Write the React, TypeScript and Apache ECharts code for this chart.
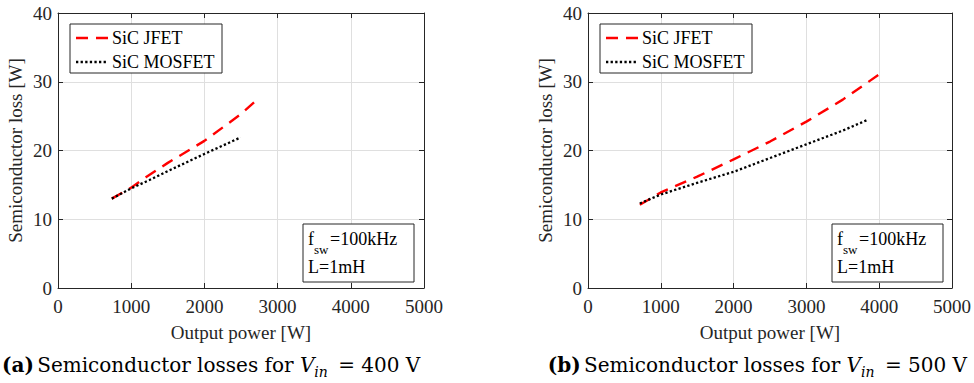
import React, { useEffect, useRef } from "react";
import * as echarts from "echarts";

// Panel (a): V_in = 400 V
const jfetA_P = [735, 1000, 1200, 1500, 2000, 2500, 2690];
const jfetA_L = [13.0, 14.6, 16.1, 18.2, 21.4, 25.3, 27.1];
const mosA_P = [735, 1000, 1250, 1500, 2000, 2495];
const mosA_L = [13.0, 14.5, 15.7, 17.0, 19.5, 21.9];

// Panel (b): V_in = 500 V
const jfetB_P = [712, 1000, 1500, 2000, 2500, 3000, 3500, 3990];
const jfetB_L = [12.1, 13.9, 16.2, 18.7, 21.3, 24.2, 27.4, 31.0];
const mosB_P = [712, 1000, 1500, 2000, 2500, 3000, 3500, 3850];
const mosB_L = [12.3, 13.6, 15.3, 16.9, 18.9, 20.9, 22.9, 24.5];

const seriesNames = ["SiC JFET", "SiC MOSFET"];
const xRange = [0, 5000];
const yRange = [0, 40];
const xStep = 1000;
const yStep = 10;
const xTitle = "Output power [W]";
const yTitle = "Semiconductor loss [W]";
const captions = [
  { tag: "(a)", v: "400" },
  { tag: "(b)", v: "500" },
];

const pairs = (xs: number[], ys: number[]) => xs.map((x, i) => [x, ys[i]]);

const FONT = "'Liberation Serif', serif";
const CAPFONT = "'DejaVu Serif', serif";
const AX = "#262626";
const JFET_DASH = [12, 8];
const MOS_DASH = [2.3, 2.3];

export default function App() {
  const ref = useRef<HTMLDivElement>(null);
  useEffect(() => {
    document.body.style.margin = "0";
    const chart = echarts.init(ref.current!, null, { renderer: "svg" });
    const grids = [
      { left: 58, top: 13, width: 366, height: 275 },
      { left: 588, top: 13, width: 365, height: 275 },
    ];
    const xAxes: any[] = [];
    const yAxes: any[] = [];
    grids.forEach((_, g) => {
      xAxes.push({
        type: "value",
        gridIndex: g,
        min: xRange[0],
        max: xRange[1],
        interval: xStep,
        name: xTitle,
        nameLocation: "middle",
        nameGap: 35,
        nameTextStyle: { fontFamily: FONT, fontSize: 19, color: AX },
        axisLine: { show: true, lineStyle: { color: AX, width: 1 } },
        axisTick: { show: true, inside: true, length: 5, lineStyle: { color: AX } },
        axisLabel: { fontFamily: FONT, fontSize: 19, color: AX, margin: 9, formatter: (v: number) => String(v) },
        splitLine: { show: true, lineStyle: { color: "#dfdfdf", width: 1 } },
      });
      xAxes.push({
        type: "value",
        gridIndex: g,
        position: "top",
        min: xRange[0],
        max: xRange[1],
        interval: xStep,
        axisLine: { show: true, onZero: false, lineStyle: { color: AX, width: 1 } },
        axisTick: { show: true, inside: true, length: 5, lineStyle: { color: AX } },
        axisLabel: { show: false },
        splitLine: { show: false },
      });
      yAxes.push({
        type: "value",
        gridIndex: g,
        min: yRange[0],
        max: yRange[1],
        interval: yStep,
        name: yTitle,
        nameLocation: "middle",
        nameGap: 33,
        nameTextStyle: { fontFamily: FONT, fontSize: 19, color: AX },
        axisLine: { show: true, lineStyle: { color: AX, width: 1 } },
        axisTick: { show: true, inside: true, length: 5, lineStyle: { color: AX } },
        axisLabel: { fontFamily: FONT, fontSize: 19, color: AX, margin: 6 },
        splitLine: { show: true, lineStyle: { color: "#dfdfdf", width: 1 } },
      });
      yAxes.push({
        type: "value",
        gridIndex: g,
        position: "right",
        min: yRange[0],
        max: yRange[1],
        interval: yStep,
        axisLine: { show: true, onZero: false, lineStyle: { color: AX, width: 1 } },
        axisTick: { show: true, inside: true, length: 5, lineStyle: { color: AX } },
        axisLabel: { show: false },
        splitLine: { show: false },
      });
    });

    const data = [
      [pairs(jfetA_P, jfetA_L), pairs(mosA_P, mosA_L)],
      [pairs(jfetB_P, jfetB_L), pairs(mosB_P, mosB_L)],
    ];
    const series: any[] = [];
    data.forEach((d, g) => {
      series.push({
        name: seriesNames[0],
        type: "line",
        xAxisIndex: g * 2,
        yAxisIndex: g * 2,
        data: d[0],
        symbol: "none",
        smooth: false,
        lineStyle: { color: "#ff0000", width: 2.4, type: JFET_DASH },
        itemStyle: { color: "#ff0000" },
        z: 3,
      });
      series.push({
        name: seriesNames[1],
        type: "line",
        xAxisIndex: g * 2,
        yAxisIndex: g * 2,
        data: d[1],
        symbol: "none",
        smooth: false,
        lineStyle: { color: "#000000", width: 2.3, type: MOS_DASH },
        itemStyle: { color: "#000000" },
        z: 4,
      });
    });

    const graphic: any[] = [];
    grids.forEach((gr, g) => {
      // legend box
      const lx = gr.left + 12;
      const ly = 24;
      graphic.push({
        type: "rect",
        shape: { x: lx, y: ly, width: 152, height: 49 },
        style: { fill: "#fff", stroke: AX, lineWidth: 1 },
        z: 20,
      });
      graphic.push({
        type: "line",
        shape: { x1: lx + 6, y1: ly + 14, x2: lx + 38, y2: ly + 14 },
        style: { stroke: "#ff0000", lineWidth: 2.4, lineDash: JFET_DASH },
        z: 21,
      });
      graphic.push({
        type: "line",
        shape: { x1: lx + 6, y1: ly + 38, x2: lx + 38, y2: ly + 38 },
        style: { stroke: "#000", lineWidth: 2.3, lineDash: MOS_DASH },
        z: 21,
      });
      graphic.push({
        type: "text",
        x: lx + 42,
        y: ly + 14,
        style: { text: seriesNames[0], font: `18px ${FONT}`, fill: "#000", verticalAlign: "middle" },
        z: 21,
      });
      graphic.push({
        type: "text",
        x: lx + 42,
        y: ly + 38,
        style: { text: seriesNames[1], font: `18px ${FONT}`, fill: "#000", verticalAlign: "middle" },
        z: 21,
      });

      // parameter box
      const bx = gr.left + gr.width - 121;
      const by = 224;
      graphic.push({
        type: "rect",
        shape: { x: bx, y: by, width: 111, height: 58 },
        style: { fill: "#fff", stroke: AX, lineWidth: 1 },
        z: 20,
      });
      graphic.push({
        type: "text",
        x: bx + 5,
        y: by + 15,
        style: { text: "f", font: `18px ${FONT}`, fill: "#000", verticalAlign: "middle" },
        z: 21,
      });
      graphic.push({
        type: "text",
        x: bx + 11,
        y: by + 25,
        style: { text: "sw", font: `13px ${FONT}`, fill: "#000", verticalAlign: "middle" },
        z: 21,
      });
      graphic.push({
        type: "text",
        x: bx + 27,
        y: by + 15,
        style: { text: "=100kHz", font: `18px ${FONT}`, fill: "#000", verticalAlign: "middle" },
        z: 21,
      });
      graphic.push({
        type: "text",
        x: bx + 5,
        y: by + 43,
        style: { text: "L=1mH", font: `18px ${FONT}`, fill: "#000", verticalAlign: "middle" },
        z: 21,
      });

      // caption
      const c = captions[g];
      graphic.push({
        type: "text",
        x: g === 0 ? 2 : 967,
        y: 362,
        style: {
          text: `{b|${c.tag}} {n|Semiconductor losses for }{i|V}{s|in}{n| = ${c.v} V}`,
          verticalAlign: "middle",
          align: g === 0 ? "left" : "right",
          fill: "#000",
          rich: {
            b: { fontFamily: CAPFONT, fontWeight: "bold", fontSize: 20, lineHeight: 26, verticalAlign: "bottom" },
            n: { fontFamily: CAPFONT, fontSize: 20, lineHeight: 26, verticalAlign: "bottom" },
            i: { fontFamily: CAPFONT, fontStyle: "italic", fontSize: 20, lineHeight: 26, verticalAlign: "bottom" },
            s: { fontFamily: CAPFONT, fontStyle: "italic", fontSize: 14, lineHeight: 14, verticalAlign: "bottom", padding: [0, 4, -4, 0] },
          },
        },
        z: 21,
      });
    });

    chart.setOption({
      animation: false,
      backgroundColor: "#ffffff",
      grid: grids,
      xAxis: xAxes,
      yAxis: yAxes,
      series,
      graphic,
    });
    return () => chart.dispose();
  }, []);
  return <div ref={ref} style={{ width: 974, height: 383 }} />;
}
